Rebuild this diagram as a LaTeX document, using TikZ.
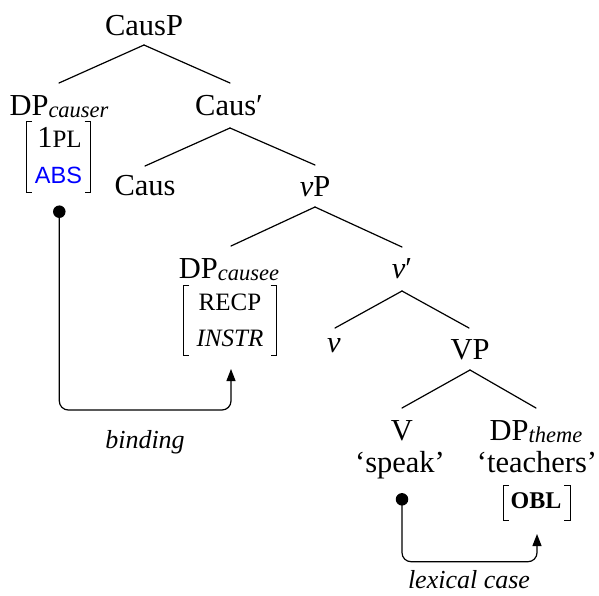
\documentclass[tikz,border=0pt]{standalone}
\usepackage{fontspec}
\setmainfont{Liberation Serif}
\newfontfamily\absfont{Liberation Sans}
\usetikzlibrary{arrows.meta}
\newcommand\subx[1]{\raisebox{-2.5pt}{\fontsize{22.5}{24}\selectfont\itshape #1}}
\newcommand\smcap[1]{{\fontsize{25}{27}\selectfont #1}}
\begin{document}
\begin{tikzpicture}[x=1pt,y=-1pt,
  lab/.style={anchor=base,inner sep=0pt,font=\fontsize{30.5}{33}\selectfont},
  note/.style={anchor=base,inner sep=0pt,font=\fontsize{26}{28}\selectfont\itshape},
  edge/.style={line width=1.2pt,line cap=round},
  brk/.style={line width=1pt},
  conn/.style={line width=1.2pt,rounded corners=9pt,-{Triangle[length=12pt,width=9pt]}},
  dotnode/.style={circle,fill=black,inner sep=0pt,minimum size=12.5pt}]
\useasboundingbox (0,0) rectangle (599,595);

% tree labels
\node[lab] (causp) at (144,35) {CausP};
\node[lab] (dpc) at (59,115) {DP\subx{causer}};
\node[lab] (causbar) at (229,115) {Caus′};
\node[lab] (caus) at (145,195) {Caus};
\node[lab] (vp) at (315,196) {\textit{v}P};
\node[lab] (dpce) at (229,278) {DP\subx{causee}};
\node[lab] (vbar) at (402,278) {\textit{v}′};
\node[lab] (v) at (334,352) {\textit{v}};
\node[lab] (bigvp) at (470,359) {VP};
\node[lab] (bigv) at (402,440) {V};
\node[lab] (speak) at (400,472) {‘speak’};
\node[lab] (dpt) at (536,440) {DP\subx{theme}};
\node[lab] (teach) at (537,472) {‘teachers’};

% feature rows
\node[lab] (f1) at (59.5,147) {1\smcap{PL}};
\node[lab,font=\fontsize{23.5}{25}\absfont,text=blue] (f2) at (58.5,183) {ABS};
\node[lab] (f3) at (230,310) {\smcap{RECP}};
\node[lab] (f4) at (230,346) {\smcap{\itshape INSTR}};
\node[lab,font=\fontsize{24}{26}\selectfont\bfseries] (f5) at (536,508) {OBL};

% brackets
\draw[brk] (32,121.7) -- (26,121.7) -- (26,192.7) -- (32,192.7);
\draw[brk] (84.5,121.7) -- (90.5,121.7) -- (90.5,192.7) -- (84.5,192.7);
\draw[brk] (189.3,285) -- (183.3,285) -- (183.3,355) -- (189.3,355);
\draw[brk] (270.7,285) -- (276.7,285) -- (276.7,355) -- (270.7,355);
\draw[brk] (509,485) -- (503,485) -- (503,520) -- (509,520);
\draw[brk] (564,485) -- (570,485) -- (570,520) -- (564,520);

% tree edges
\draw[edge] ([yshift=-10pt]causp.base) -- ([yshift=32pt]dpc.base);
\draw[edge] ([yshift=-10pt]causp.base) -- ([xshift=1pt,yshift=32pt]causbar.base);
\draw[edge] ([xshift=1pt,yshift=-13pt]causbar.base) -- ([yshift=29pt]caus.base);
\draw[edge] ([xshift=1pt,yshift=-13pt]causbar.base) -- ([yshift=31pt]vp.base);
\draw[edge] ([yshift=-11pt]vp.base) -- ([xshift=2pt,yshift=32pt]dpce.base);
\draw[edge] ([yshift=-11pt]vp.base) -- ([yshift=31pt]vbar.base);
\draw[edge] ([yshift=-13pt]vbar.base) -- ([xshift=1pt,yshift=24pt]v.base);
\draw[edge] ([yshift=-13pt]vbar.base) -- ([xshift=-1pt,yshift=31pt]bigvp.base);
\draw[edge] ([yshift=-11pt]bigvp.base) -- ([yshift=32pt]bigv.base);
\draw[edge] ([yshift=-11pt]bigvp.base) -- ([yshift=32pt]dpt.base);

% binding connector
\node[dotnode] (dot1) at (59.3,211.7) {};
\coordinate (b1) at (231,410);
\coordinate (t1) at (231,369);
\draw[conn] (dot1.center) |- (b1) -- (t1);
\node[note] (bind) at (145,448) {binding};

% lexical case connector
\node[dotnode] (dot2) at (402,499.3) {};
\coordinate (b2) at (537,561.7);
\coordinate (t2) at (537,534);
\draw[conn] (dot2.center) |- (b2) -- (t2);
\node[note] (lex) at (469,588) {lexical case};
\end{tikzpicture}
\end{document}
